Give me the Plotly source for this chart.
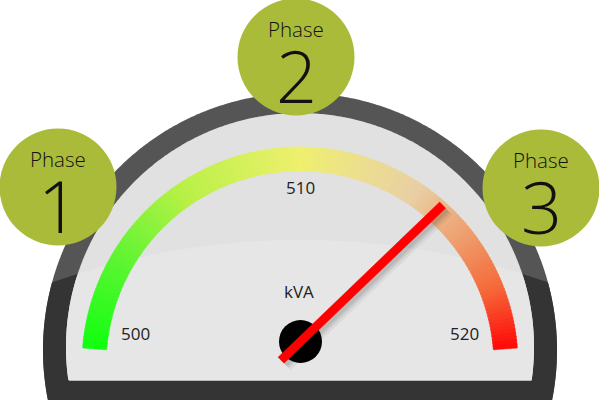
import numpy as np
import plotly.graph_objects as go

# ---------------- data ----------------
scale_min = 500
scale_max = 520
tick_values = [500, 510, 520]
tick_labels = ["500", "510", "520"]
needle_value = 515.4
unit_label = "kVA"
phase_words = ["Phase", "Phase", "Phase"]
phase_numbers = ["1", "2", "3"]

# ---------------- style / geometry ----------------
W, H = 599, 400
CX = 300.0
ARC_CY = 365.0
R_OUT, R_IN = 218.0, 194.0
ANG_START, ANG_END = 175.5, 4.5
PIV_X, PIV_Y, PIV_R = 300.5, 341.5, 21.5
NEEDLE_LEN, NEEDLE_TAIL, NEEDLE_W = 197.0, 27.0, 8.5
GRAD_VALS = [500, 503, 506, 510, 512, 514, 516, 518, 520]
GRAD_COLS = ["#10ff10", "#5cf532", "#b8f046", "#eef06e", "#ecdf8e",
             "#e8cfa4", "#eea070", "#f56a3a", "#ff0808"]
CIRCLE_COL = "rgb(170,187,58)"
PHASE_POS = [(58, 187), (296, 57), (541, 188)]
PHASE_R = 58.5


def val_to_angle(v):
    return ANG_START + (v - scale_min) / (scale_max - scale_min) * (ANG_END - ANG_START)


def hex_rgb(h):
    h = h.lstrip("#")
    return np.array([int(h[i:i + 2], 16) for i in (0, 2, 4)], dtype=float)


def grad_color(v):
    cols = np.array([hex_rgb(c) for c in GRAD_COLS])
    rgb = [np.interp(v, GRAD_VALS, cols[:, k]) for k in range(3)]
    return "rgb(%d,%d,%d)" % tuple(int(round(c)) for c in rgb)


def circle_pts(cx, cy, r, n=720):
    t = np.linspace(0, 2 * np.pi, n, endpoint=False)
    return np.c_[cx + r * np.cos(t), cy + r * np.sin(t)]


def convex_intersection(pts_a, inside_b, pts_b, inside_a):
    pa = pts_a[inside_b(pts_a)]
    pb = pts_b[inside_a(pts_b)]
    allp = np.vstack([pa, pb])
    c = allp.mean(axis=0)
    order = np.argsort(np.arctan2(allp[:, 1] - c[1], allp[:, 0] - c[0]))
    return allp[order]


def to_path(p):
    return "M " + " L ".join("%.2f,%.2f" % (x, y) for x, y in p) + " Z"


def in_circle(cx, cy, r):
    return lambda p: (p[:, 0] - cx) ** 2 + (p[:, 1] - cy) ** 2 <= r * r


# bezel and gloss
BZ = (300.0, 350.0, 257.0)
GL = (300.0, 985.0, 745.0)
FC = (300.0, 347.0, 234.0)
FACE_BOTTOM = 380.5

bezel_pts = circle_pts(*BZ)
gloss_pts = circle_pts(*GL, n=4000)
bezel_dark = convex_intersection(bezel_pts, in_circle(*GL), gloss_pts, in_circle(*BZ))

face_pts = circle_pts(*FC)
line_x = np.linspace(0, W, 400)
line_pts = np.c_[line_x, np.full_like(line_x, FACE_BOTTOM)]
face_poly = convex_intersection(face_pts, lambda p: p[:, 1] <= FACE_BOTTOM,
                                line_pts, in_circle(*FC))
face_low = face_poly[in_circle(*GL)(face_poly)]
face_low = np.vstack([face_low, gloss_pts[in_circle(*FC)(gloss_pts) & (gloss_pts[:, 1] <= FACE_BOTTOM)]])
c = face_low.mean(axis=0)
face_low = face_low[np.argsort(np.arctan2(face_low[:, 1] - c[1], face_low[:, 0] - c[0]))]

shapes = [
    dict(type="path", path=to_path(bezel_pts), fillcolor="#555555", line=dict(width=0), layer="below"),
    dict(type="path", path=to_path(bezel_dark), fillcolor="#343434", line=dict(width=0), layer="below"),
    dict(type="path", path=to_path(face_poly), fillcolor="#e1e1e1", line=dict(width=0), layer="below"),
    dict(type="path", path=to_path(face_low), fillcolor="#e6e6e6", line=dict(width=0), layer="below"),
    dict(type="circle", x0=PIV_X - PIV_R, x1=PIV_X + PIV_R, y0=PIV_Y - PIV_R, y1=PIV_Y + PIV_R,
         fillcolor="#000000", line=dict(width=0), layer="below"),
]
for (px, py) in PHASE_POS:
    shapes.append(dict(type="circle", x0=px - PHASE_R, x1=px + PHASE_R, y0=py - PHASE_R, y1=py + PHASE_R,
                       fillcolor=CIRCLE_COL, line=dict(width=0), layer="below"))

fig = go.Figure()

# coloured scale band
N = 171
vals = np.linspace(scale_min, scale_max, N + 1)
for i in range(N):
    v0, v1 = vals[i], vals[i + 1]
    a0 = np.radians(val_to_angle(v0) + (0.15 if i > 0 else 0))
    a1 = np.radians(val_to_angle(v1) - (0.15 if i < N - 1 else 0))
    t = np.linspace(a0, a1, 4)
    xs = np.r_[CX + R_OUT * np.cos(t), CX + R_IN * np.cos(t[::-1])]
    ys = np.r_[ARC_CY - R_OUT * np.sin(t), ARC_CY - R_IN * np.sin(t[::-1])]
    col = grad_color(0.5 * (v0 + v1))
    fig.add_trace(go.Scatter(x=np.r_[xs, xs[0]], y=np.r_[ys, ys[0]], mode="lines",
                             fill="toself", fillcolor=col, line=dict(color=col, width=0.6),
                             hoverinfo="skip", showlegend=False))

# needle (shadow + needle)
na = np.radians(val_to_angle(needle_value))
ux, uy = np.cos(na), -np.sin(na)
nx, ny = -uy, ux


def needle_poly(ox, oy, w):
    tipx, tipy = PIV_X + ox + NEEDLE_LEN * ux, PIV_Y + oy + NEEDLE_LEN * uy
    tlx, tly = PIV_X + ox - NEEDLE_TAIL * ux, PIV_Y + oy - NEEDLE_TAIL * uy
    h = w / 2
    px = [tlx + h * nx, tipx + h * nx, tipx - h * nx, tlx - h * nx, tlx + h * nx]
    py = [tly + h * ny, tipy + h * ny, tipy - h * ny, tly - h * ny, tly + h * ny]
    return px, py


for off, w, op in [(4, 16, 0.05), (3.5, 12, 0.07), (3, 9, 0.08)]:
    sx, sy = needle_poly(off, off, w)
    fig.add_trace(go.Scatter(x=sx, y=sy, mode="lines", fill="toself",
                             fillcolor="rgba(0,0,0,%.2f)" % op, line=dict(width=0),
                             hoverinfo="skip", showlegend=False))
px_, py_ = needle_poly(0, 0, NEEDLE_W)
fig.add_trace(go.Scatter(x=px_, y=py_, mode="lines", fill="toself", fillcolor="#ff0000",
                         line=dict(color="#ff0000", width=0.5), hoverinfo="skip", showlegend=False))

# annotations
ann = []
LBL_CX, LBL_CY, LBL_RX, LBL_RY = 300.0, 346.0, 165.0, 159.0
for v, lab in zip(tick_values, tick_labels):
    a = np.radians(val_to_angle(v))
    ann.append(dict(x=LBL_CX + LBL_RX * np.cos(a), y=LBL_CY - LBL_RY * np.sin(a), text=lab,
                    showarrow=False, xanchor="center", yanchor="middle",
                    font=dict(family="Open Sans", size=17, color="#222222")))
ann.append(dict(x=299, y=291, text=unit_label, showarrow=False, xanchor="center", yanchor="middle",
                font=dict(family="Open Sans", size=17, color="#222222")))
for (px, py), wd, num in zip(PHASE_POS, phase_words, phase_numbers):
    ann.append(dict(x=px, y=py - 28, text=wd, showarrow=False, xanchor="center", yanchor="middle",
                    font=dict(family="Open Sans", size=20.5, color="#111111", weight=300)))
    ann.append(dict(x=px, y=py + 18, text=num, showarrow=False, xanchor="center", yanchor="middle",
                    font=dict(family="Open Sans", size=72, color="#111111", weight=300)))

fig.update_layout(
    width=W, height=H, margin=dict(l=0, r=0, t=0, b=0),
    paper_bgcolor="white", plot_bgcolor="white",
    xaxis=dict(range=[0, W], visible=False, fixedrange=True),
    yaxis=dict(range=[H, 0], visible=False, fixedrange=True),
    shapes=shapes, annotations=ann, showlegend=False,
)
fig.write_html("out.html", config=dict(displayModeBar=False),
               post_script="document.body.style.margin='0';document.body.style.padding='0';"
                           "document.body.style.overflow='hidden';")
